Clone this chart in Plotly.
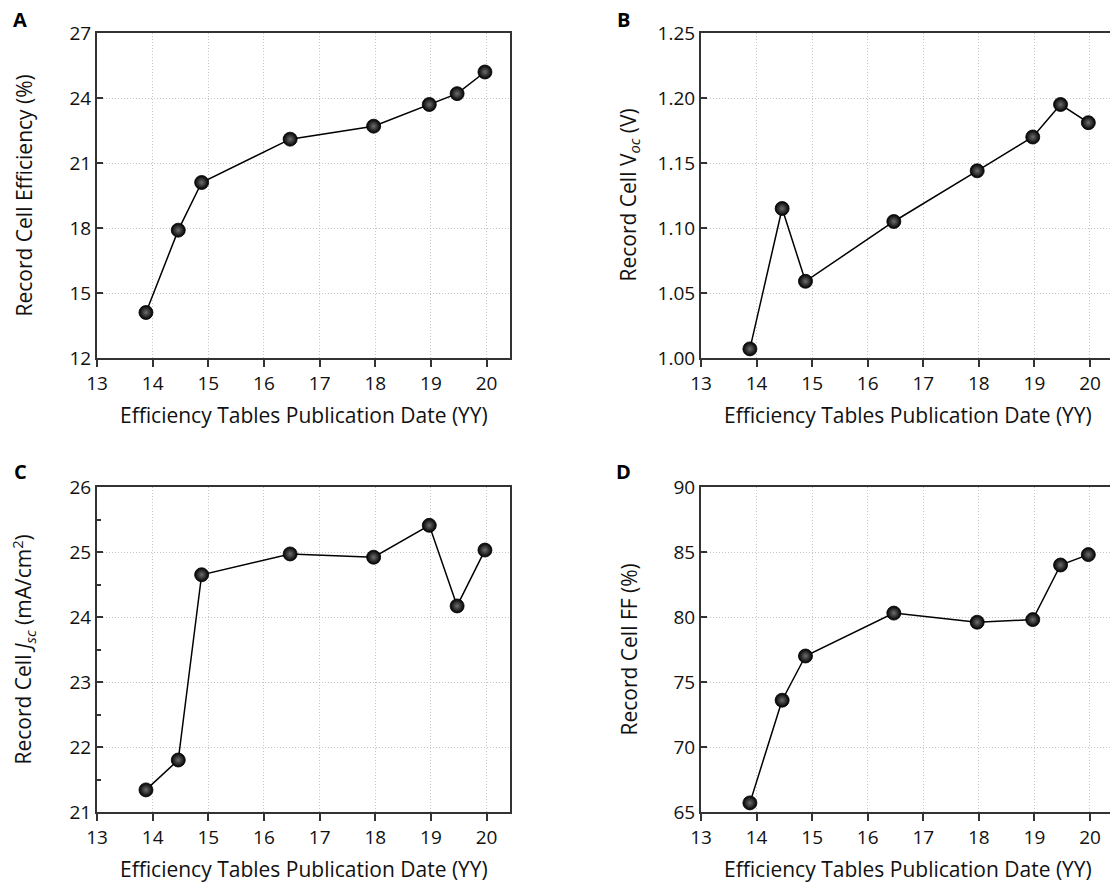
import plotly.graph_objects as go

# ---------------- data ----------------
pub_date = [13.88, 14.46, 14.88, 16.47, 17.97, 18.97, 19.47, 19.97]
efficiency = [14.1, 17.9, 20.1, 22.1, 22.7, 23.7, 24.2, 25.2]
voc = [1.007, 1.115, 1.059, 1.105, 1.144, 1.170, 1.195, 1.181]
jsc = [21.34, 21.80, 24.65, 24.97, 24.92, 25.41, 24.17, 25.03]
ff = [65.7, 73.6, 77.0, 80.3, 79.6, 79.8, 84.0, 84.8]

x_ticks = [13, 14, 15, 16, 17, 18, 19, 20]
eff_ticks = [12, 15, 18, 21, 24, 27]
voc_ticks = [1.00, 1.05, 1.10, 1.15, 1.20, 1.25]
jsc_ticks = [21, 22, 23, 24, 25, 26]
ff_ticks = [65, 70, 75, 80, 85, 90]

panel_letters = ["A", "B", "C", "D"]
y_titles = [
    "Record Cell Efficiency (%)",
    "Record Cell V<sub><i>oc</i></sub> (V)",
    "Record Cell <i>J</i><sub><i>sc</i></sub> (mA/cm<sup>2</sup>)",
    "Record Cell FF (%)",
]
x_title = "Efficiency Tables Publication Date (YY)"

FONT = "Open Sans"
W, H = 1110, 886

fig = go.Figure()

series = [efficiency, voc, jsc, ff]
for i, ys in enumerate(series):
    sfx = "" if i == 0 else str(i + 1)
    fig.add_trace(go.Scatter(
        x=pub_date, y=ys, mode="lines+markers",
        xaxis="x" + sfx, yaxis="y" + sfx,
        line=dict(color="black", width=1.5),
        marker=dict(size=14, color="#000000",
                    gradient=dict(type="radial", color="#6e6e6e"),
                    line=dict(color="black", width=0.8)),
        showlegend=False, cliponaxis=False,
    ))

# geometry (pixels -> paper)
left_dom = [97 / W, 510 / W]
right_dom = [701 / W, 1.0]
top_dom = [1 - 358 / H, 1 - 33 / H]
bot_dom = [1 - 812 / H, 1 - 487 / H]

GRID = dict(showgrid=True, gridcolor="#c4c4c4", griddash="1px,2px", gridwidth=1)

def xax(domain, anchor, rng, mirror=True):
    return dict(
        domain=domain, anchor=anchor, range=rng, automargin=False,
        tickmode="array", tickvals=x_ticks,
        ticks="outside", ticklen=7, tickwidth=2, tickcolor="#333",
        showline=True, linecolor="#333", linewidth=2, mirror=mirror,
        zeroline=False,
        tickfont=dict(family=FONT, size=19, color="#111"),
        **GRID,
    )

def yax(domain, anchor, rng, tickvals, fmt, mirror=True, minor=None):
    d = dict(
        domain=domain, anchor=anchor, range=rng, automargin=False,
        tickmode="array", tickvals=tickvals,
        ticks="inside", ticklen=6, tickwidth=2, tickcolor="#333",
        showline=True, linecolor="#333", linewidth=2, mirror=mirror,
        zeroline=False, tickformat=fmt,
        tickfont=dict(family=FONT, size=19, color="#111"),
        **GRID,
    )
    if minor is not None:
        d["minor"] = minor
    return d

fig.update_layout(
    template="none",
    width=W, height=H,
    margin=dict(l=0, r=0, t=0, b=0, pad=0),
    paper_bgcolor="white", plot_bgcolor="white",
    xaxis=xax(left_dom, "y", [13, 20.42]),
    yaxis=yax(top_dom, "x", [12, 27], eff_ticks, "d"),
    xaxis2=xax(right_dom, "y2", [13, 20.36]),
    yaxis2=yax(top_dom, "x2", [1.0, 1.25], voc_ticks, ".2f", mirror=False),
    xaxis3=xax(left_dom, "y3", [13, 20.42]),
    yaxis3=yax(bot_dom, "x3", [21, 26], jsc_ticks, "d",
               minor=dict(ticks="inside", ticklen=4, tickwidth=1.5,
                          tickcolor="#333", dtick=0.5, showgrid=False)),
    xaxis4=xax(right_dom, "y4", [13, 20.36]),
    yaxis4=yax(bot_dom, "x4", [65, 90], ff_ticks, "d", mirror=False),
)

annotations = []
# panel letters
letter_pos = [(20, 19), (623, 19), (20, 471), (623, 472)]
for letter, (px, py) in zip(panel_letters, letter_pos):
    annotations.append(dict(
        text="<b>" + letter + "</b>", x=px / W, y=1 - py / H,
        xref="paper", yref="paper", showarrow=False,
        xanchor="center", yanchor="middle",
        font=dict(family=FONT, size=20, color="black")))

# y titles
ytitle_pos = [(23, 195.5), (628, 195.5), (23, 649.5), (628, 649.5)]
for t, (px, py) in zip(y_titles, ytitle_pos):
    annotations.append(dict(
        text=t, x=px / W, y=1 - py / H, xref="paper", yref="paper",
        showarrow=False, textangle=-90, xanchor="center", yanchor="middle",
        font=dict(family=FONT, size=21, color="#111")))

# x titles
xtitle_pos = [(303.5, 415), (907.5, 415), (303.5, 869), (907.5, 869)]
for px, py in xtitle_pos:
    annotations.append(dict(
        text=x_title, x=px / W, y=1 - py / H, xref="paper", yref="paper",
        showarrow=False, xanchor="center", yanchor="middle",
        font=dict(family=FONT, size=21, color="#111")))

fig.update_layout(annotations=annotations)

fig.write_html(
    "out.html",
    config={"displayModeBar": False},
    post_script="document.body.style.margin='0';document.body.style.overflow='hidden';",
)
